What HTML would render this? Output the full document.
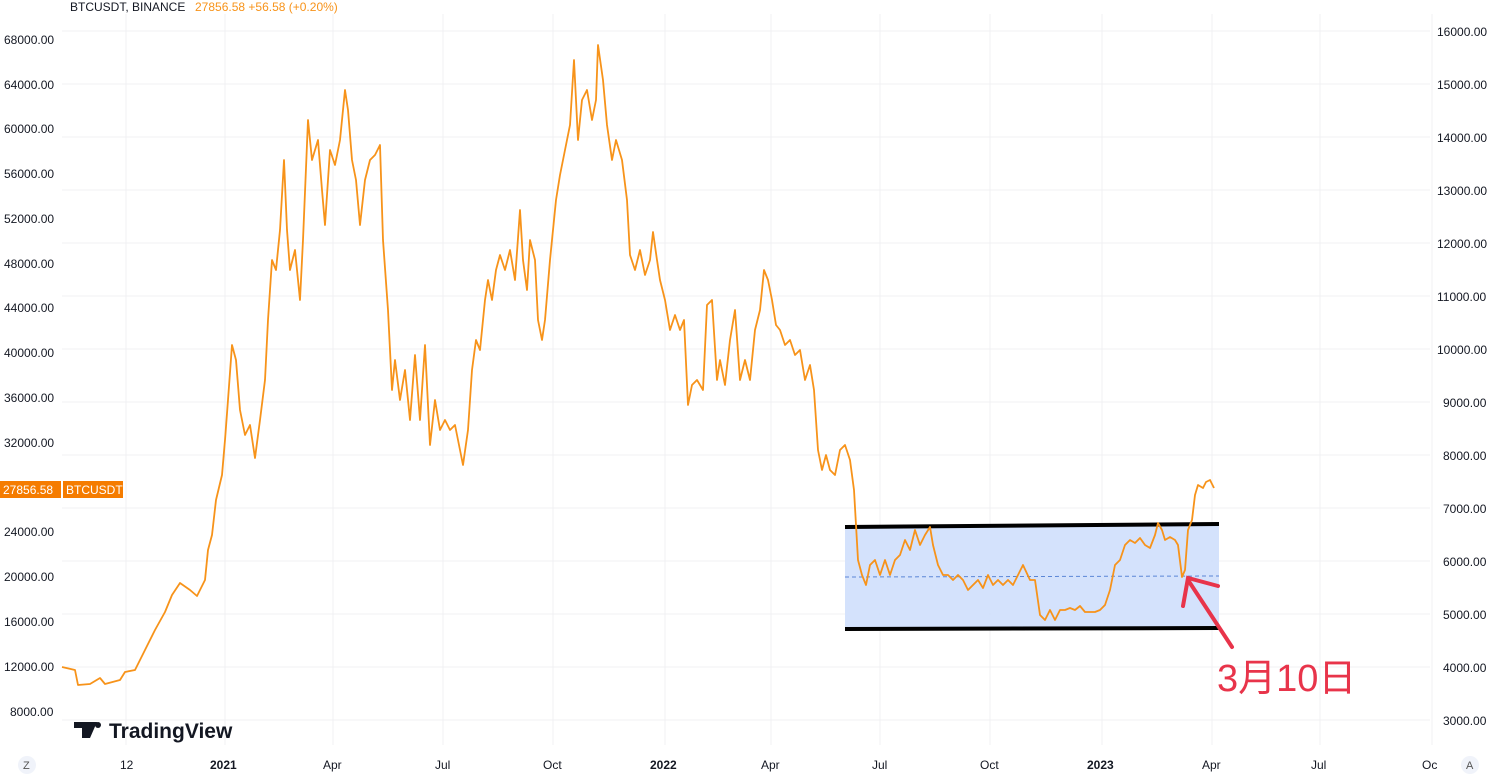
<!DOCTYPE html>
<html><head><meta charset="utf-8"><style>
body{margin:0;width:1501px;height:778px;background:#fff;overflow:hidden;font-family:"Liberation Sans",sans-serif}
svg{display:block}
text{font-family:"Liberation Sans","Noto Sans CJK SC",sans-serif}
</style></head><body>
<svg width="1501" height="778" viewBox="0 0 1501 778">
<g stroke="#f0f0f3" stroke-width="1">
<line x1="126" y1="14" x2="126" y2="745"/><line x1="225" y1="14" x2="225" y2="745"/><line x1="333" y1="14" x2="333" y2="745"/><line x1="443" y1="14" x2="443" y2="745"/><line x1="553" y1="14" x2="553" y2="745"/><line x1="665" y1="14" x2="665" y2="745"/><line x1="771" y1="14" x2="771" y2="745"/><line x1="880" y1="14" x2="880" y2="745"/><line x1="990" y1="14" x2="990" y2="745"/><line x1="1102" y1="14" x2="1102" y2="745"/><line x1="1212" y1="14" x2="1212" y2="745"/><line x1="1320" y1="14" x2="1320" y2="745"/><line x1="1432" y1="14" x2="1432" y2="745"/>
<line x1="62" y1="31" x2="1430" y2="31"/>
<line x1="62" y1="84" x2="1430" y2="84"/><line x1="62" y1="137" x2="1430" y2="137"/><line x1="62" y1="190" x2="1430" y2="190"/><line x1="62" y1="243" x2="1430" y2="243"/><line x1="62" y1="296" x2="1430" y2="296"/><line x1="62" y1="349" x2="1430" y2="349"/><line x1="62" y1="402" x2="1430" y2="402"/><line x1="62" y1="455" x2="1430" y2="455"/><line x1="62" y1="508" x2="1430" y2="508"/><line x1="62" y1="561" x2="1430" y2="561"/><line x1="62" y1="614" x2="1430" y2="614"/><line x1="62" y1="667" x2="1430" y2="667"/><line x1="62" y1="720" x2="1430" y2="720"/>
</g>
<text x="70" y="11" font-size="12" fill="#131722">BTCUSDT, BINANCE</text>
<text x="195" y="11" font-size="12" fill="#f7931a">27856.58  +56.58 (+0.20%)</text>
<g font-size="12" fill="#131722">
<text x="4" y="44">68000.00</text><text x="4" y="89">64000.00</text><text x="4" y="133">60000.00</text><text x="4" y="178">56000.00</text><text x="4" y="223">52000.00</text><text x="4" y="268">48000.00</text><text x="4" y="312">44000.00</text><text x="4" y="357">40000.00</text><text x="4" y="402">36000.00</text><text x="4" y="447">32000.00</text><text x="4" y="536">24000.00</text><text x="4" y="581">20000.00</text><text x="4" y="626">16000.00</text><text x="4" y="671">12000.00</text><text x="10" y="716">8000.00</text>
<text x="1437" y="36">16000.00</text><text x="1437" y="89">15000.00</text><text x="1437" y="142">14000.00</text><text x="1437" y="195">13000.00</text><text x="1437" y="248">12000.00</text><text x="1437" y="301">11000.00</text><text x="1437" y="354">10000.00</text><text x="1443" y="407">9000.00</text><text x="1443" y="460">8000.00</text><text x="1443" y="513">7000.00</text><text x="1443" y="566">6000.00</text><text x="1443" y="619">5000.00</text><text x="1443" y="672">4000.00</text><text x="1443" y="725">3000.00</text>
<text x="120" y="769">12</text><text x="210" y="769" font-weight="bold">2021</text><text x="323" y="769">Apr</text><text x="435" y="769">Jul</text><text x="543" y="769">Oct</text><text x="650" y="769" font-weight="bold">2022</text><text x="761" y="769">Apr</text><text x="872" y="769">Jul</text><text x="980" y="769">Oct</text><text x="1087" y="769" font-weight="bold">2023</text><text x="1202" y="769">Apr</text><text x="1311" y="769">Jul</text><text x="1422" y="769">Oc</text>
</g>
<circle cx="27" cy="765" r="9" fill="#f0f3fa"/><text x="23" y="769" font-size="11" fill="#555">Z</text>
<circle cx="1470" cy="765" r="9" fill="#f0f3fa"/><text x="1466" y="769" font-size="11" fill="#555">A</text>
<path d="M74,722 h14 v16 h-6 v-10 h-8z M88,722 h9 l-7,16 h-6z" fill="#131722"/>
<circle cx="98" cy="725" r="3" fill="#131722"/>
<text x="109" y="738" font-size="21" font-weight="bold" fill="#131722">TradingView</text>
<polygon points="845,527 1219,524 1219,628 845,629" fill="#cfdffc" opacity="0.9"/>
<line x1="845" y1="577" x2="1219" y2="576" stroke="#5b86d6" stroke-width="1" stroke-dasharray="4,3"/>
<line x1="845" y1="527" x2="1219" y2="524" stroke="#000" stroke-width="4"/>
<line x1="845" y1="629" x2="1219" y2="628" stroke="#000" stroke-width="4"/>
<polyline fill="none" stroke="#f7931a" stroke-width="1.8" stroke-linejoin="round" points="62,667 75,670 78,685 90,684 100,678 105,684 120,680 125,672 135,670 140,660 145,650 155,630 165,612 172,595 180,583 190,590 197,596 205,580 208,550 212,535 216,500 222,475 225,440 228,400 232,345 236,360 240,410 245,435 250,425 255,458 260,420 265,380 268,320 272,260 276,270 280,230 284,160 287,230 290,270 295,250 300,300 303,240 308,120 312,160 318,140 322,190 325,225 330,150 335,165 340,140 345,90 348,110 352,160 356,180 360,225 365,180 370,160 375,155 380,145 383,240 388,310 392,390 395,360 400,400 405,370 410,420 415,355 420,420 425,345 430,445 435,400 440,430 445,420 450,430 455,425 460,450 463,465 468,430 472,370 476,340 480,350 485,300 488,280 492,300 496,270 500,255 505,270 510,250 515,280 520,210 523,260 527,290 530,240 535,260 538,320 542,340 545,320 550,260 556,200 560,175 565,150 570,125 574,60 578,140 582,100 587,90 592,120 596,100 598,45 603,80 607,125 612,160 616,140 622,160 627,200 630,255 635,270 640,250 645,275 650,260 653,232 657,260 660,280 665,300 670,330 675,315 680,330 684,320 688,405 692,385 697,380 703,390 707,305 712,300 717,380 720,360 725,385 730,340 735,310 740,380 745,360 750,380 755,330 760,310 764,270 768,280 772,300 776,325 780,330 785,345 790,340 795,355 800,350 805,380 810,365 814,390 818,450 822,470 826,455 830,470 835,475 840,450 845,445 850,460 854,490 858,560 862,575 866,585 870,565 875,560 880,575 885,560 890,575 895,560 900,555 905,540 910,550 915,530 920,545 925,535 930,527 933,545 938,565 943,575 948,575 953,580 958,575 963,580 968,590 973,585 978,580 983,588 988,575 993,585 998,580 1003,585 1008,580 1013,585 1018,575 1023,565 1030,580 1035,580 1040,615 1045,620 1050,610 1055,620 1060,610 1065,610 1070,608 1075,610 1080,606 1085,612 1090,612 1095,612 1100,610 1105,605 1110,590 1115,565 1120,560 1125,545 1130,540 1135,543 1140,538 1145,545 1150,548 1155,535 1158,523 1162,530 1165,540 1170,537 1175,540 1178,545 1182,577 1185,570 1188,530 1192,520 1195,495 1198,485 1203,488 1206,482 1210,480 1214,488"/>
<rect x="0" y="481" width="61" height="17" fill="#f57c00"/>
<text x="3" y="494" font-size="12" fill="#fff">27856.58</text>
<rect x="63" y="481" width="60" height="17" fill="#f57c00"/>
<text x="66" y="494" font-size="12" fill="#fff">BTCUSDT</text>
<g stroke="#e8344a" stroke-width="4" stroke-linecap="round" fill="none">
<line x1="1232" y1="647" x2="1188" y2="580"/>
<polyline points="1183,606 1188,578 1218,586"/>
</g>
<text x="1217" y="691" font-size="38" fill="#e8344a">3月10日</text>
</svg>
</body></html>
